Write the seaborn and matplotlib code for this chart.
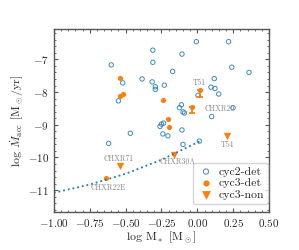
import numpy as np
import pandas as pd
import matplotlib
matplotlib.use("Agg")
import matplotlib.pyplot as plt
import seaborn as sns

# cycle 2 detections (open blue circles)
c2_x = [-0.60, -0.31, -0.31, -0.52, -0.385, -0.315, -0.293, -0.293, -0.23, -0.55,
        -0.007, 0.218, -0.107, -0.172, 0.24, 0.36, 0.118, 0.095, 0.123, 0.149,
        0.005, -0.111, -0.125, -0.10, -0.09, 0.249, 0.10, -0.25, -0.26, -0.235,
        -0.24, -0.205, -0.107, -0.10, 0.014, -0.618, -0.467]
c2_y = [-7.17, -6.72, -7.09, -7.72, -7.60, -7.69, -7.84, -7.92, -7.79, -8.27,
        -6.46, -6.46, -6.84, -7.37, -7.24, -7.40, -7.59, -7.85, -7.89, -8.06,
        -8.10, -8.39, -8.48, -8.61, -8.64, -8.48, -8.75, -8.98, -9.05, -8.95,
        -9.28, -9.34, -9.16, -9.60, -9.50, -9.57, -9.26]

# cycle 3 detections (filled orange circles)
c3_x = [-0.537, -0.52, -0.537, -0.237, 0.016, -0.037, -0.207, -0.20, -0.639]
c3_y = [-7.57, -8.07, -8.13, -8.24, -7.94, -8.47, -8.82, -9.06, -10.64]

# cycle 3 non-detections (orange triangles)
non_x = [-0.537, -0.16, 0.209, -0.483]
non_y = [-10.25, -9.91, -9.35, -11.75]

# stars with a lower error bar
err_x = [0.016, -0.037]
err_y = [-7.94, -8.47]
err_lo = [0.20, 0.18]

# labelled stars
lab_names = ["T51", "CHXR20", "CHXR71", "CHXR22E", "CHXR30A", "T54"]
lab_x = [0.016, 0.05, -0.55, -0.62, -0.14, 0.209]
lab_y = [-7.72, -8.52, -10.05, -10.93, -10.12, -9.62]
lab_ha = ["center", "left", "center", "center", "center", "center"]

# detection limit curve
lim_x = [-1.0, -0.75, -0.5, -0.25, 0.02]
lim_y = [-11.08, -10.83, -10.50, -10.07, -9.50]

sns.set_style("ticks")
plt.rcParams["font.family"] = ["cmr10", "DejaVu Serif"]
plt.rcParams["mathtext.fontset"] = "cm"
plt.rcParams["axes.formatter.use_mathtext"] = True

blue = "#1f77b4"
orange = "#ff7f0e"

fig, ax = plt.subplots(figsize=(2.99, 2.5), dpi=100)
fig.subplots_adjust(left=0.18, right=0.90, bottom=0.153, top=0.883)

ax.plot(lim_x, lim_y, ls=":", color=blue, lw=1.3)

sns.scatterplot(x=c2_x, y=c2_y, ax=ax, marker="o", s=10, facecolor="none",
                edgecolor=blue, linewidth=0.7, alpha=0.85, label="cyc2-det")
ax.errorbar(err_x, err_y, yerr=[err_lo, [0, 0]], fmt="none", ecolor=orange,
            elinewidth=1.3, capsize=2, capthick=1.3)
sns.scatterplot(x=c3_x, y=c3_y, ax=ax, marker="o", s=14, color=orange,
                edgecolor=orange, linewidth=0, label="cyc3-det")
sns.scatterplot(x=non_x, y=non_y, ax=ax, marker="v", s=28, color=orange,
                edgecolor=orange, linewidth=0, label="cyc3-non")

for name, x, y, ha in zip(lab_names, lab_x, lab_y, lab_ha):
    ax.text(x, y, name, fontsize=5.5, color="#888888", ha=ha, va="center")

ax.set_xlim(-1.0, 0.5)
ax.set_ylim(-11.66, -6.08)
ax.set_xticks([-1.0, -0.75, -0.5, -0.25, 0.0, 0.25, 0.5])
ax.set_yticks([-11, -10, -9, -8, -7])
ax.minorticks_on()
ax.tick_params(which="both", direction="in", top=True, right=True,
               labelsize=8, color="#555555")
ax.tick_params(which="major", length=3)
ax.tick_params(which="minor", length=1.5)
for sp in ax.spines.values():
    sp.set_color("#555555")
    sp.set_linewidth(1.0)

ax.set_xlabel(r"log M$_*$ [M$_\odot$]", fontsize=8.5, labelpad=1)
ax.set_ylabel(r"log $\dot{M}_{\rm acc}$ [M$_\odot$/yr]", fontsize=8.5, labelpad=1)

ax.legend(loc="lower right", bbox_to_anchor=(0.995, 0.045), fontsize=8.5,
          handletextpad=0.3, borderpad=0.3, labelspacing=0.12, handlelength=1.6,
          borderaxespad=0.0, markerscale=1.2)

fig.savefig("out.png", dpi=100)
